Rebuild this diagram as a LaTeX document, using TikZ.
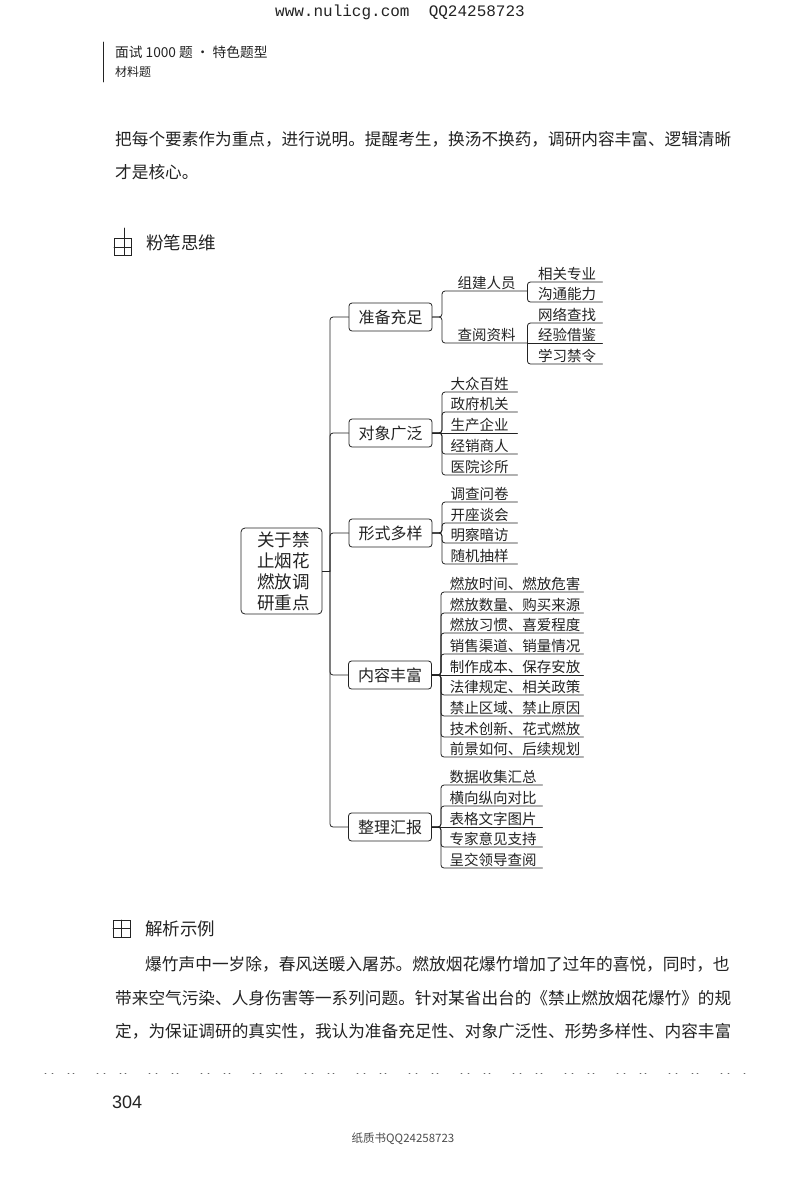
\documentclass[tikz,border=0pt]{standalone}
\usepackage{fontspec}
\usepackage{tikz}
\usetikzlibrary{positioning}
\setmainfont{Noto Sans CJK SC}
\newfontfamily\latinmono{Liberation Mono}
\newfontfamily\latinsans{Liberation Sans}
\newcommand{\fsz}[1]{\fontsize{#1}{#1}\selectfont}
\definecolor{InkBlack}{RGB}{35,35,35}

\begin{document}
\begin{tikzpicture}[x=1pt, y=-1pt, line cap=round,
		box/.style={draw=InkBlack, line width=0.8pt, rounded corners=3pt, minimum width=83pt, minimum height=28pt, inner sep=0pt, font=\fsz{16}, text=InkBlack},
		rootbox/.style={draw=InkBlack, line width=0.8pt, rounded corners=4pt, minimum width=81pt, minimum height=86pt, inner sep=0pt, align=center, font=\fontsize{17.5}{21}\selectfont, text=InkBlack},
		leaf/.style={anchor=south west, inner sep=0pt, text height=11pt, text depth=2.5pt, font=\fsz{14.5}, text=InkBlack},
		leafshift/.style={leaf, execute at begin node={\hspace*{#1}}},
		link/.style={draw=InkBlack, line width=0.8pt, rounded corners=3pt},
		page/.style={anchor=west, inner sep=0pt, text=InkBlack, font=\fsz{16.65}}
	]
		\useasboundingbox (0,0) rectangle (800,1189);
		\fill[white] (0,0) rectangle (800,1189);
		
		% 页眉
		\node[inner sep=0pt, font=\latinmono\fsz{16}, text=InkBlack] (Top) at (400,12) {www.nulicg.com\ \ QQ24258723};
		\draw[InkBlack, line width=0.6pt] (103,42) -- (103,82);
		\node[page, font=\fsz{13.7}] (Head1) at (115,52) {面试 1000 题 · 特色题型};
		\node[page, font=\fsz{12}] (Head2) at (115,72) {材料题};
		
		% 上段文字
		\node[page] (Text1) at (115,139) {把每个要素作为重点，进行说明。提醒考生，换汤不换药，调研内容丰富、逻辑清晰};
		\node[page] (Text2) at (115,172) {才是核心。};
		
		% 粉笔思维
		\draw[InkBlack, line width=0.6pt] (114,238) rectangle (131,255);
		\draw[InkBlack, line width=0.6pt] (124,228) -- (124,255);
		\draw[InkBlack, line width=0.6pt] (114,247) -- (131,247);
		\node[page, font=\fsz{17.5}] (Title1) at (146,243) {粉笔思维};
		
		% 中心与一级
		\node[rootbox] (Root) at (281.5,571) {\hspace*{4pt}关于禁\\\hspace*{4pt}止烟花\\\hspace*{4pt}燃放调\\\hspace*{4pt}研重点};
		\coordinate (Spine) at (330,571);
		\node[box] (B1) at (390.5,317) {准备充足};
		\node[box] (B2) at (390.5,433) {对象广泛};
		\node[box] (B3) at (390.5,533) {形式多样};
		\node[box] (B4) at (390,675) {内容丰富};
		\node[box] (B5) at (390,827) {整理汇报};
		
		\draw[link] (Root.east) -- (Spine);
		\draw[link] (Spine) |- (B1.west);
		\draw[link] (Spine) |- (B2.west);
		\draw[link] (Spine) |- (B3.west);
		\draw[link] (Spine) |- (B4.west);
		\draw[link] (Spine) |- (B5.west);
		
		% 准备充足
		\node[leafshift=4pt, minimum width=85pt] (C1) at (442,291) {组建人员};
		\node[leafshift=4pt, minimum width=85pt] (C2) at (442,343) {查阅资料};
		\node[leafshift=5pt, minimum width=75pt] (C11) at (527,282) {相关专业};
		\node[leafshift=5pt, minimum width=75pt] (C12) at (527,302) {沟通能力};
		\node[leafshift=5pt, minimum width=75pt] (C21) at (527,323) {网络查找};
		\node[leafshift=5pt, minimum width=75pt] (C22) at (527,343) {经验借鉴};
		\node[leafshift=5pt, minimum width=75pt] (C23) at (527,364) {学习禁令};
		\draw[link] (B1.east) -| (C1.south west) -- (C1.south east);
		\draw[link] (B1.east) -| (C2.south west) -- (C2.south east);
		\draw[link] (C1.south east) |- (C11.south east);
		\draw[link] (C1.south east) |- (C12.south east);
		\draw[link] (C2.south east) |- (C21.south east);
		\draw[link] (C2.south east) -- (C22.south east);
		\draw[link] (C2.south east) |- (C23.south east);
		
		% 对象广泛
		\node[leaf, minimum width=75pt] (D1) at (442,392) {大众百姓};
		\node[leaf, minimum width=75pt] (D2) at (442,412) {政府机关};
		\node[leaf, minimum width=75pt] (D3) at (442,433) {生产企业};
		\node[leaf, minimum width=75pt] (D4) at (442,454) {经销商人};
		\node[leaf, minimum width=75pt] (D5) at (442,475) {医院诊所};
		\draw[link] (B2.east) -| (D1.south west) -- (D1.south east);
		\draw[link] (B2.east) -| (D2.south west) -- (D2.south east);
		\draw[link] (B2.east) -- (D3.south east);
		\draw[link] (B2.east) -| (D4.south west) -- (D4.south east);
		\draw[link] (B2.east) -| (D5.south west) -- (D5.south east);
		
		% 形式多样
		\node[leaf, minimum width=75pt] (E1) at (442,502) {调查问卷};
		\node[leaf, minimum width=75pt] (E2) at (442,523) {开座谈会};
		\node[leaf, minimum width=75pt] (E3) at (442,543) {明察暗访};
		\node[leaf, minimum width=75pt] (E4) at (442,564) {随机抽样};
		\draw[link] (B3.east) -| (E1.south west) -- (E1.south east);
		\draw[link] (B3.east) -| (E2.south west) -- (E2.south east);
		\draw[link] (B3.east) -| (E3.south west) -- (E3.south east);
		\draw[link] (B3.east) -| (E4.south west) -- (E4.south east);
		
		% 内容丰富
		\node[leafshift=6pt, minimum width=142pt] (F1) at (441,592) {燃放时间、燃放危害};
		\node[leafshift=6pt, minimum width=142pt] (F2) at (441,613) {燃放数量、购买来源};
		\node[leafshift=6pt, minimum width=142pt] (F3) at (441,633) {燃放习惯、喜爱程度};
		\node[leafshift=6pt, minimum width=142pt] (F4) at (441,654) {销售渠道、销量情况};
		\node[leafshift=6pt, minimum width=142pt] (F5) at (441,675) {制作成本、保存安放};
		\node[leafshift=6pt, minimum width=142pt] (F6) at (441,695) {法律规定、相关政策};
		\node[leafshift=6pt, minimum width=142pt] (F7) at (441,716) {禁止区域、禁止原因};
		\node[leafshift=6pt, minimum width=142pt] (F8) at (441,737) {技术创新、花式燃放};
		\node[leafshift=6pt, minimum width=142pt] (F9) at (441,757) {前景如何、后续规划};
		\draw[link] (B4.east) -| (F1.south west) -- (F1.south east);
		\draw[link] (B4.east) -| (F2.south west) -- (F2.south east);
		\draw[link] (B4.east) -| (F3.south west) -- (F3.south east);
		\draw[link] (B4.east) -| (F4.south west) -- (F4.south east);
		\draw[link] (B4.east) -- (F5.south east);
		\draw[link] (B4.east) -| (F6.south west) -- (F6.south east);
		\draw[link] (B4.east) -| (F7.south west) -- (F7.south east);
		\draw[link] (B4.east) -| (F8.south west) -- (F8.south east);
		\draw[link] (B4.east) -| (F9.south west) -- (F9.south east);
		
		% 整理汇报
		\node[leafshift=3pt, minimum width=101pt] (G1) at (441,785) {数据收集汇总};
		\node[leafshift=3pt, minimum width=101pt] (G2) at (441,806) {横向纵向对比};
		\node[leafshift=3pt, minimum width=101pt] (G3) at (441,827) {表格文字图片};
		\node[leafshift=3pt, minimum width=101pt] (G4) at (441,847) {专家意见支持};
		\node[leafshift=3pt, minimum width=101pt] (G5) at (441,868) {呈交领导查阅};
		\draw[link] (B5.east) -| (G1.south west) -- (G1.south east);
		\draw[link] (B5.east) -| (G2.south west) -- (G2.south east);
		\draw[link] (B5.east) -- (G3.south east);
		\draw[link] (B5.east) -| (G4.south west) -- (G4.south east);
		\draw[link] (B5.east) -| (G5.south west) -- (G5.south east);
		
		% 解析示例
		\draw[InkBlack, line width=0.6pt] (113,920) rectangle (130,937);
		\draw[InkBlack, line width=0.6pt] (121.5,920) -- (121.5,937);
		\draw[InkBlack, line width=0.6pt] (113,928.5) -- (130,928.5);
		\node[page, font=\fsz{17.5}] (Title2) at (145,929) {解析示例};
		\node[page, font=\fsz{16.7}] (Text3) at (145,964) {爆竹声中一岁除，春风送暖入屠苏。燃放烟花爆竹增加了过年的喜悦，同时，也};
		\node[page] (Text4) at (115,998) {带来空气污染、人身伤害等一系列问题。针对某省出台的《禁止燃放烟花爆竹》的规};
		\node[page] (Text5) at (115,1031) {定，为保证调研的真实性，我认为准备充足性、对象广泛性、形势多样性、内容丰富};
		\draw[black!60, line width=0.7pt, dash pattern=on 1pt off 6pt on 1pt off 15pt on 1pt off 4pt on 1pt off 23pt] (45,1073) -- (745,1073);
		
		% 页脚
		\node[page, font=\latinsans\fsz{18}] (PageNo) at (112,1102) {304};
		\node[inner sep=0pt, font=\fsz{11.5}, text=black!70] (Foot) at (403,1139) {纸质书QQ24258723};
	\end{tikzpicture}
\end{document}
